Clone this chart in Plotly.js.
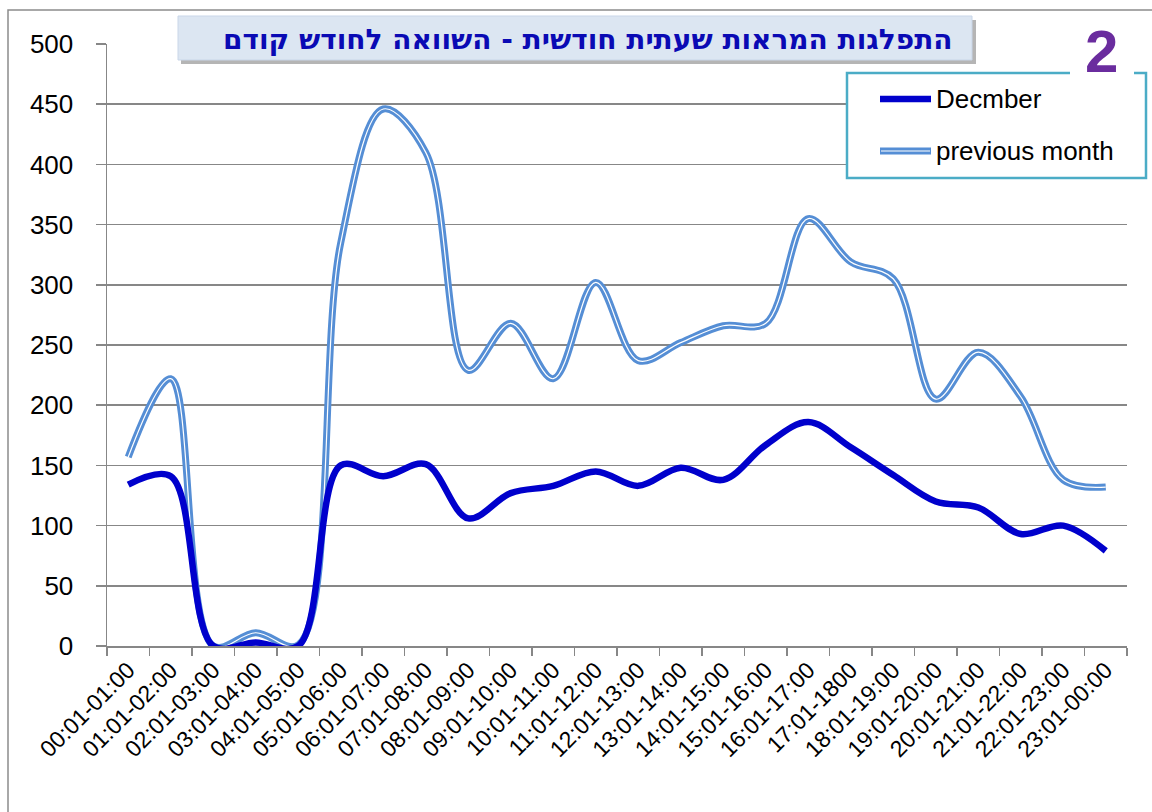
<!DOCTYPE html>
<html>
<head>
<meta charset="utf-8">
<script src="https://cdn.plot.ly/plotly-3.0.1.min.js"></script>
<style>
  html, body { margin: 0; padding: 0; background: #ffffff; }
  #chart { width: 1152px; height: 812px; }
</style>
</head>
<body>
<div id="chart"></div>
<script>
// ---- data ----
const hours = [
  "00:01-01:00", "01:01-02:00", "02:01-03:00", "03:01-04:00", "04:01-05:00", "05:01-06:00",
  "06:01-07:00", "07:01-08:00", "08:01-09:00", "09:01-10:00", "10:01-11:00", "11:01-12:00",
  "12:01-13:00", "13:01-14:00", "14:01-15:00", "15:01-16:00", "16:01-17:00", "17:01-1800",
  "18:01-19:00", "19:01-20:00", "20:01-21:00", "21:01-22:00", "22:01-23:00", "23:01-00:00"
];
const december = [134, 141, 0, 3, 0, 150, 141, 151, 106, 127, 133, 145, 133, 148, 138, 167, 186, 165, 142, 120, 115, 93, 100, 79];
const previousMonth = [157, 222, 0, 11, 1, 335, 446, 410, 229, 268, 222, 302, 237, 252, 266, 268, 355, 319, 305, 205, 244, 207, 138, 132];
const yTicks = [0, 50, 100, 150, 200, 250, 300, 350, 400, 450, 500];

const seriesNames = ["Decmber", "previous month"];
const chartTitle = "התפלגות המראות שעתית חודשית - השוואה לחודש קודם";

// ---- geometry helpers (plot area in pixels) ----
const W = 1152, H = 812;
const M = { l: 107, r: 25, t: 44, b: 166 };
const PW = W - M.l - M.r, PH = H - M.t - M.b;
const px = x => (x - M.l) / PW;
const py = y => (H - M.b - y) / PH;

const decColor = "#0000CC";
const prevColor = "#558ED5";
const gridColor = "#878787";

const traces = [
  {
    x: hours, y: previousMonth, type: "scatter", mode: "lines", name: seriesNames[1],
    line: { color: prevColor, width: 7, shape: "spline", smoothing: 1 }, showlegend: false, hoverinfo: "skip"
  },
  {
    x: hours, y: previousMonth, type: "scatter", mode: "lines", name: seriesNames[1] + " core",
    line: { color: "#ffffff", width: 1.2, shape: "spline", smoothing: 1 }, showlegend: false, hoverinfo: "skip"
  },
  {
    x: hours, y: december, type: "scatter", mode: "lines", name: seriesNames[0],
    line: { color: decColor, width: 6.5, shape: "spline", smoothing: 1 }, showlegend: false, hoverinfo: "skip"
  }
];

const shapes = [
  // outer chart border
  { type: "rect", xref: "paper", yref: "paper", x0: px(8), x1: px(1175), y0: py(10), y1: py(840),
    line: { color: "#8c8c8c", width: 1.5 }, fillcolor: "rgba(0,0,0,0)", layer: "below" },
  // title shadow
  { type: "rect", xref: "paper", yref: "paper", x0: px(181), x1: px(976), y0: py(20), y1: py(64),
    line: { width: 0 }, fillcolor: "rgba(90,90,90,0.45)" },
  // title box
  { type: "rect", xref: "paper", yref: "paper", x0: px(178), x1: px(972), y0: py(16), y1: py(60),
    line: { color: "#c9d6e8", width: 1 }, fillcolor: "#DCE6F2" },
  // legend box
  { type: "rect", xref: "paper", yref: "paper", x0: px(847), x1: px(1146), y0: py(73), y1: py(178),
    line: { color: "#4BACC6", width: 2.5 }, fillcolor: "#ffffff" },
  // icon white background
  { type: "rect", xref: "paper", yref: "paper", x0: px(1070), x1: px(1134), y0: py(18), y1: py(78),
    line: { width: 0 }, fillcolor: "#ffffff" },
  // legend samples
  { type: "line", xref: "paper", yref: "paper", x0: px(880), x1: px(931), y0: py(99), y1: py(99),
    line: { color: decColor, width: 6.5 } },
  { type: "line", xref: "paper", yref: "paper", x0: px(880), x1: px(931), y0: py(151), y1: py(151),
    line: { color: prevColor, width: 7 } },
  { type: "line", xref: "paper", yref: "paper", x0: px(881), x1: px(930), y0: py(151), y1: py(151),
    line: { color: "#ffffff", width: 1.2 } }
];

const annotations = [
  { xref: "paper", yref: "paper", x: px(955), y: py(40), xanchor: "right", yanchor: "middle",
    text: "<b>" + chartTitle + "</b>", showarrow: false,
    font: { family: "DejaVu Sans, Liberation Sans, sans-serif", size: 28, color: "#0A0AB4" } },
  { xref: "paper", yref: "paper", x: px(1101), y: py(51), xanchor: "center", yanchor: "middle",
    text: "<b>2</b>", showarrow: false,
    font: { family: "Liberation Sans, Arial, sans-serif", size: 60, color: "#6A2C9E" } },
  { xref: "paper", yref: "paper", x: px(934), y: py(99), xanchor: "left", yanchor: "middle",
    text: seriesNames[0], showarrow: false,
    font: { family: "Liberation Sans, Arial, sans-serif", size: 26, color: "#000000" } },
  { xref: "paper", yref: "paper", x: px(934), y: py(151), xanchor: "left", yanchor: "middle",
    text: seriesNames[1], showarrow: false,
    font: { family: "Liberation Sans, Arial, sans-serif", size: 26, color: "#000000" } }
];

const layout = {
  width: W, height: H, autosize: false,
  margin: { l: M.l, r: M.r, t: M.t, b: M.b, pad: 0 },
  paper_bgcolor: "#ffffff", plot_bgcolor: "#ffffff",
  showlegend: false,
  font: { family: "Liberation Sans, Arial, sans-serif", color: "#000000" },
  xaxis: {
    type: "category", categoryorder: "array", categoryarray: hours,
    range: [-0.5, hours.length - 0.5], tickson: "boundaries",
    ticks: "outside", ticklen: 8, tickwidth: 1.5, tickcolor: gridColor,
    showline: true, linecolor: gridColor, linewidth: 1.5,
    showgrid: false, zeroline: false, tickangle: -45,
    tickfont: { family: "Liberation Sans, Arial, sans-serif", size: 23, color: "#000000" }
  },
  yaxis: {
    range: [0, 500], tickmode: "array", tickvals: yTicks, ticktext: yTicks.map(String),
    ticks: "outside", ticklen: 10, tickwidth: 1.5, tickcolor: gridColor,
    showline: true, linecolor: gridColor, linewidth: 1.5,
    showgrid: true, gridcolor: gridColor, gridwidth: 1.5, zeroline: false,
    ticklabelstandoff: 17,
    tickfont: { family: "Liberation Sans, Arial, sans-serif", size: 26, color: "#000000" }
  },
  shapes: shapes,
  annotations: annotations
};

Plotly.newPlot("chart", traces, layout, { displayModeBar: false, staticPlot: true });
</script>
</body>
</html>
